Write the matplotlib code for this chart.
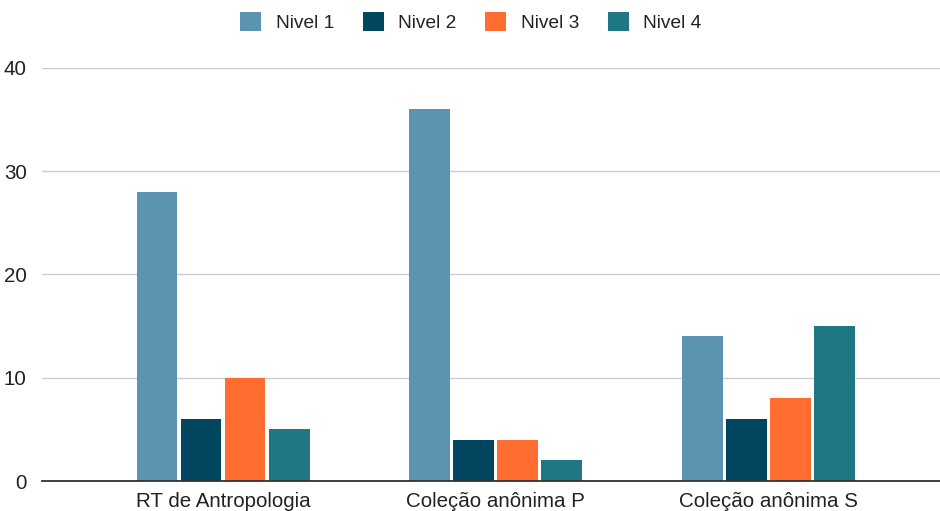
import matplotlib
matplotlib.use("Agg")
import matplotlib.pyplot as plt
from matplotlib.patches import Patch
import numpy as np

categories = ["RT de Antropologia", "Coleção anônima P", "Coleção anônima S"]
series_names = ["Nivel 1", "Nivel 2", "Nivel 3", "Nivel 4"]
nivel_1 = [28, 36, 14]
nivel_2 = [6, 4, 6]
nivel_3 = [10, 4, 8]
nivel_4 = [5, 2, 15]
yticks = [0, 10, 20, 30, 40]

colors = ["#5B93B0", "#00465F", "#FF6D31", "#1F7784"]

plt.rcParams["font.family"] = ["Liberation Sans", "DejaVu Sans"]

fig = plt.figure(figsize=(9.4, 5.11), dpi=100)
ax = fig.add_axes([42 / 940, 30 / 511, 898 / 940, 413 / 511])

x = np.arange(len(categories))
pitch = 0.1615
width = 0.150
values = [nivel_1, nivel_2, nivel_3, nivel_4]
for i, (vals, col) in enumerate(zip(values, colors)):
    ax.bar(x + (i - 1.5) * pitch, vals, width=width, color=col, zorder=3)

ax.set_xlim(-0.664, 2.63)
ax.set_ylim(0, 40)
ax.set_yticks(yticks)
ax.set_yticklabels([str(v) for v in yticks])
ax.set_xticks(x)
ax.set_xticklabels(categories)
ax.tick_params(axis="both", length=0, labelsize=14.8, colors="#222222")
ax.tick_params(axis="y", pad=11)
ax.tick_params(axis="x", pad=8)
ax.grid(axis="y", color="#cccccc", linewidth=1, zorder=0)
for s in ["top", "right", "left"]:
    ax.spines[s].set_visible(False)
ax.spines["bottom"].set_color("#333333")
ax.spines["bottom"].set_linewidth(1.3)
ax.spines["bottom"].set_zorder(4)

handles = [Patch(facecolor=c, edgecolor="none") for c in colors]
fig.legend(handles, series_names, loc="center", bbox_to_anchor=(471 / 940, 1 - 22 / 511),
           ncol=4, frameon=False, fontsize=13.8, handlelength=1.1, handleheight=1.1,
           handletextpad=0.75, columnspacing=1.5, labelcolor="#222222")

fig.savefig("out.png", dpi=100)
